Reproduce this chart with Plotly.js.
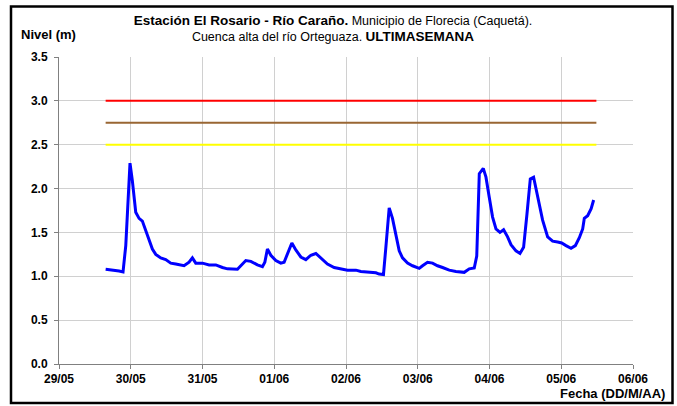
<!DOCTYPE html>
<html>
<head>
<meta charset="utf-8">
<script src="https://cdn.plot.ly/plotly-3.0.1.min.js"></script>
<style>html,body{margin:0;padding:0;background:#fff;}#chart{width:677px;height:406px;}</style>
</head>
<body>
<div id="chart"></div>
<script>
const times = [
'2013-05-29 15:36','2013-05-29 18:24','2013-05-29 20:05','2013-05-29 21:25','2013-05-29 22:20','2013-05-29 23:45',
'2013-05-30 00:32','2013-05-30 01:40','2013-05-30 02:47','2013-05-30 03:53','2013-05-30 05:01','2013-05-30 06:07',
'2013-05-30 07:14','2013-05-30 08:22','2013-05-30 10:02','2013-05-30 11:42','2013-05-30 13:23','2013-05-30 15:03',
'2013-05-30 16:10','2013-05-30 17:50','2013-05-30 19:30','2013-05-30 20:37','2013-05-30 21:45',
'2013-05-31 00:00','2013-05-31 02:12','2013-05-31 04:27','2013-05-31 06:40','2013-05-31 08:20','2013-05-31 11:41',
'2013-05-31 12:48','2013-05-31 14:29','2013-05-31 16:10','2013-05-31 18:22','2013-05-31 20:03','2013-05-31 20:51',
'2013-05-31 21:43','2013-05-31 22:51',
'2013-06-01 00:32','2013-06-01 02:12','2013-06-01 03:18','2013-06-01 04:25','2013-06-01 05:53','2013-06-01 07:13',
'2013-06-01 08:54','2013-06-01 10:34','2013-06-01 12:15','2013-06-01 13:55','2013-06-01 15:35','2013-06-01 17:48',
'2013-06-01 20:03','2013-06-01 22:17',
'2013-06-02 00:30','2013-06-02 02:10','2013-06-02 03:18','2013-06-02 04:58','2013-06-02 06:39','2013-06-02 08:19',
'2013-06-02 10:00','2013-06-02 11:06','2013-06-02 12:32','2013-06-02 13:20','2013-06-02 14:27','2013-06-02 15:33',
'2013-06-02 16:41','2013-06-02 17:48','2013-06-02 18:54','2013-06-02 20:35','2013-06-02 22:15',
'2013-06-03 00:29','2013-06-03 01:36','2013-06-03 03:16','2013-06-03 04:57','2013-06-03 06:37','2013-06-03 08:18',
'2013-06-03 10:32','2013-06-03 12:46','2013-06-03 15:33','2013-06-03 17:14','2013-06-03 18:54','2013-06-03 19:44',
'2013-06-03 20:35','2013-06-03 21:55','2013-06-03 22:49','2013-06-03 23:55',
'2013-06-04 01:02','2013-06-04 02:10','2013-06-04 03:30','2013-06-04 04:43','2013-06-04 06:03','2013-06-04 07:11',
'2013-06-04 08:51','2013-06-04 10:12','2013-06-04 11:24','2013-06-04 12:32','2013-06-04 13:39','2013-06-04 14:45',
'2013-06-04 16:06','2013-06-04 17:46','2013-06-04 19:27','2013-06-04 21:07','2013-06-04 22:48',
'2013-06-05 00:08','2013-06-05 01:36','2013-06-05 03:16','2013-06-05 04:43','2013-06-05 06:03','2013-06-05 07:10',
'2013-06-05 07:43','2013-06-05 08:50','2013-06-05 10:00','2013-06-05 10:50'
];
const nivel = [
1.08,1.07,1.06,1.05,1.35,2.29,
2.09,1.73,1.66,1.63,1.52,1.41,
1.31,1.25,1.21,1.19,1.15,1.14,
1.13,1.12,1.16,1.21,1.15,
1.15,1.13,1.13,1.10,1.085,1.08,
1.12,1.18,1.17,1.13,1.11,1.16,
1.31,1.24,
1.18,1.15,1.16,1.26,1.38,1.30,
1.22,1.19,1.24,1.26,1.21,1.14,
1.10,1.085,
1.07,1.07,1.07,1.055,1.05,1.05,
1.04,1.025,1.02,1.33,1.78,1.66,
1.45,1.29,1.21,1.15,1.12,
1.09,1.12,1.16,1.15,1.12,1.10,
1.07,1.055,1.045,1.085,1.095,1.23,
2.17,2.23,2.13,1.90,
1.675,1.54,1.50,1.53,1.45,1.36,
1.29,1.26,1.33,1.71,2.11,2.13,
1.92,1.64,1.45,1.40,1.39,
1.38,1.35,1.32,1.35,1.44,1.54,
1.66,1.69,1.77,1.87
];
const thresholdSpan = ['2013-05-29 15:36','2013-06-05 11:45'];
const thresholdLevels = [3.0, 2.75, 2.5];
const thresholdNames = ['Alerta roja','Alerta naranja','Alerta amarilla'];
const thresholdColors = ['#FF0000','#996633','#FFFF00'];
const xRange = ['2013-05-29 00:00','2013-06-06 00:00'];
const yTicks = [0,0.5,1.0,1.5,2.0,2.5,3.0,3.5];

const FONT = 'Liberation Sans, Arial, sans-serif';
const traces = thresholdLevels.map((v,i)=>({
  x: thresholdSpan, y: [v,v], mode:'lines', name: thresholdNames[i],
  line:{color: thresholdColors[i], width:2}, hoverinfo:'skip'
}));
traces.push({x: times, y: nivel, mode:'lines', name:'Nivel', line:{color:'#0000FF', width:3}});

const L=59, R=44, T=57, B=42, W=677, H=406;
const pw = W-L-R, ph = H-T-B;
const px = x => (x-L)/pw;
const py = y => (H-B-y)/ph;

const layout = {
  width:W, height:H, showlegend:false,
  margin:{l:L, r:R, t:T, b:B, pad:0},
  paper_bgcolor:'#fff', plot_bgcolor:'#fff',
  font:{family:FONT, color:'#000'},
  title:{
    text:'<b><span style="font-size:13.5px">Estación El Rosario - Río Caraño.</span></b> Municipio de Florecia (Caquetá).<br>Cuenca alta del río Orteguaza. <b><span style="font-size:13.5px">ULTIMASEMANA</span></b>',
    font:{family:FONT, size:12.5, color:'#000'},
    x:333/W, xanchor:'center', xref:'container',
    y:1-25/H, yanchor:'middle', yref:'container'
  },
  xaxis:{
    type:'date', range:xRange, dtick:86400000, tick0:xRange[0], tickformat:'%d/%m',
    showgrid:true, gridcolor:'#D0D0D0', gridwidth:1,
    showline:true, linecolor:'#808080', linewidth:1,
    ticks:'outside', ticklen:4, tickcolor:'#808080',
    tickfont:{family:FONT, size:12, weight:'bold', color:'#000'},
    zeroline:false, fixedrange:true
  },
  yaxis:{
    range:[0,3.5], tickvals:yTicks, tickformat:'.1f',
    showgrid:true, gridcolor:'#D0D0D0', gridwidth:1,
    showline:true, linecolor:'#808080', linewidth:1,
    ticks:'outside', ticklen:4, tickcolor:'#808080',
    tickfont:{family:FONT, size:12, weight:'bold', color:'#000'},
    ticklabelstandoff:4,
    zeroline:false, fixedrange:true
  },
  annotations:[
    {text:'<b>Nivel (m)</b>', xref:'paper', yref:'paper', x:px(19), y:py(35), xanchor:'left', yanchor:'middle',
     showarrow:false, font:{family:FONT, size:13, color:'#000'}},
    {text:'<b>Fecha (DD/M/AA)</b>', xref:'paper', yref:'paper', x:px(667), y:py(393), xanchor:'right', yanchor:'middle',
     showarrow:false, font:{family:FONT, size:13, color:'#000'}}
  ],
  shapes:[
    {type:'rect', xref:'paper', yref:'paper', x0:px(11), x1:px(672.5), y0:py(403), y1:py(6.5),
     line:{color:'#000', width:2.5}, fillcolor:'rgba(0,0,0,0)', layer:'above'}
  ]
};
Plotly.newPlot('chart', traces, layout, {displayModeBar:false, staticPlot:true});
</script>
</body>
</html>
